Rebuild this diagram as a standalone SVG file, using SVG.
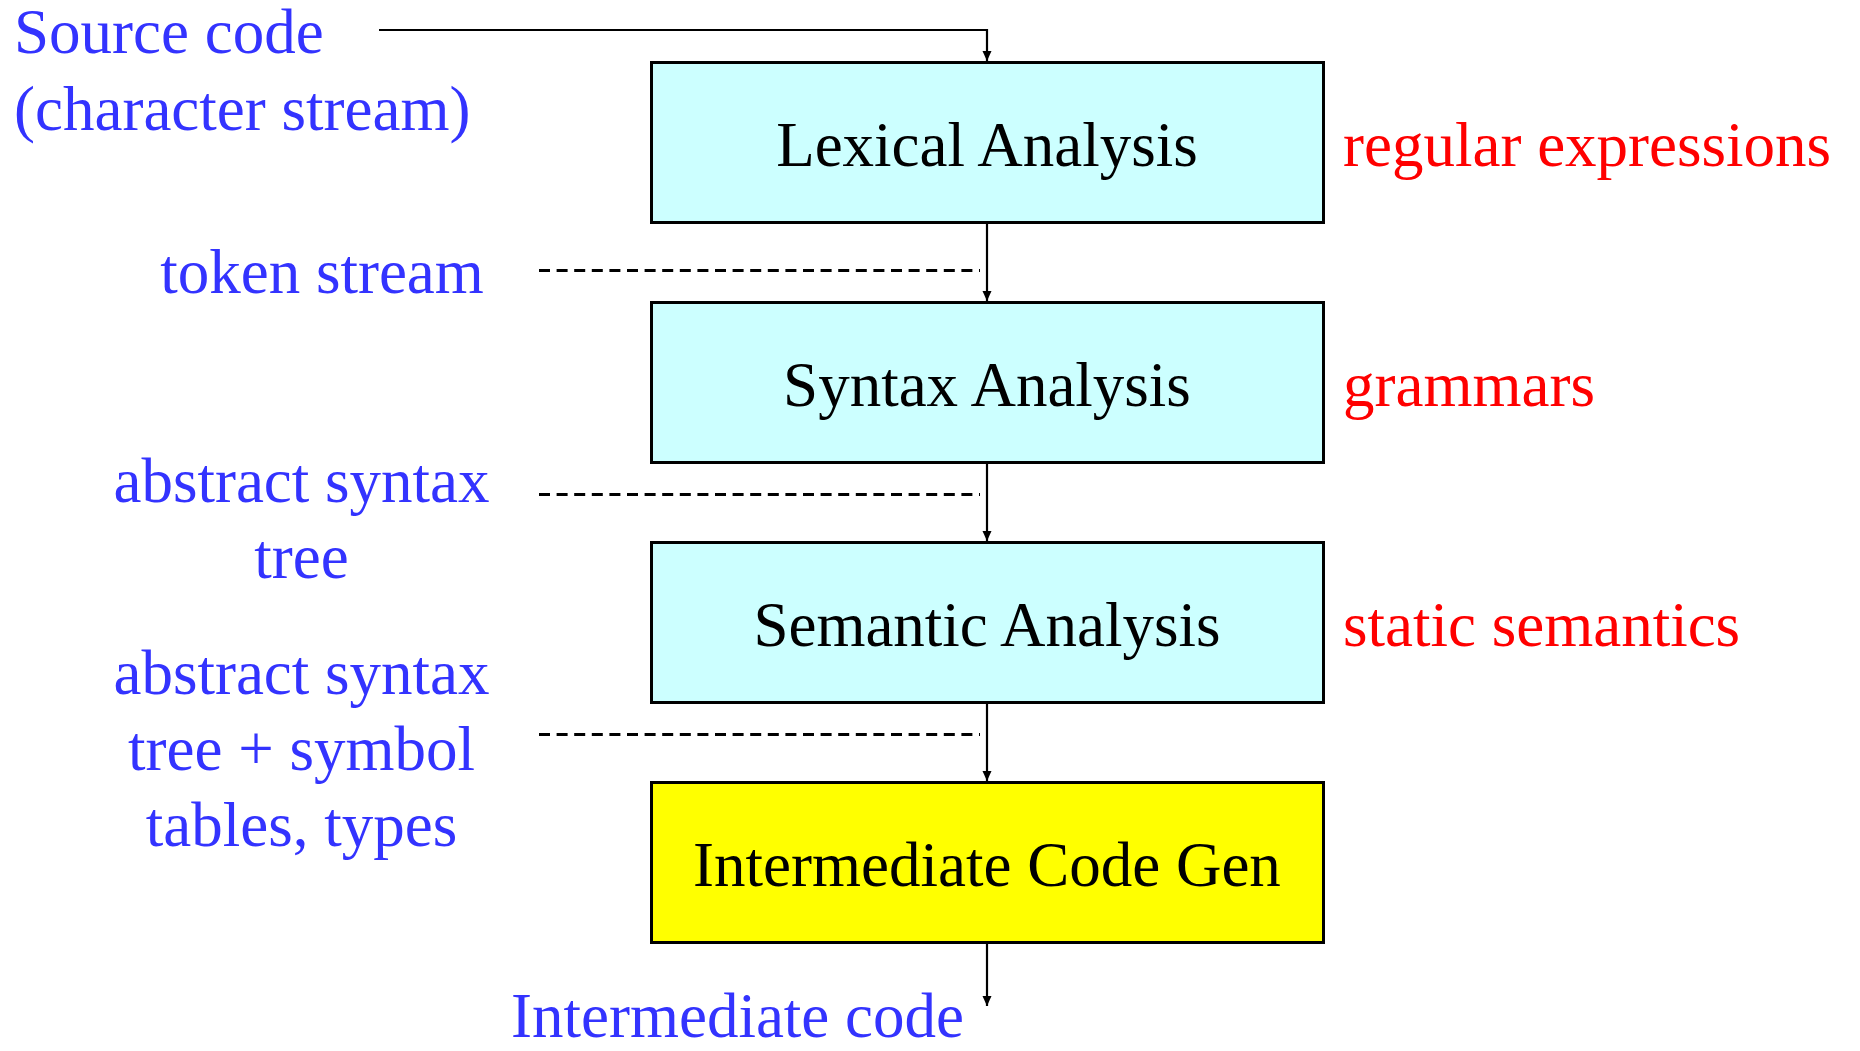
<svg xmlns="http://www.w3.org/2000/svg" width="1860" height="1051" viewBox="0 0 1860 1051">
<style>
text{font-family:"Liberation Serif","Times New Roman",serif;font-size:63px}
.node rect{stroke:#000;stroke-width:3}
.nlabel{fill:#000;text-anchor:middle}
.blue{fill:#3333FF}
.red{fill:#FF0000}
.mid{text-anchor:middle}
.conn{fill:none;stroke:#000;stroke-width:2.2}
.dash{fill:none;stroke:#000;stroke-width:3;stroke-dasharray:11 6.6}
</style>
<defs>
<marker id="arr" viewBox="0 0 10 10" refX="10" refY="5" markerWidth="10" markerHeight="10" markerUnits="userSpaceOnUse" orient="auto">
<path d="M0,0.5 L10,5 L0,9.5 Z" fill="#000"/>
</marker>
</defs>
<rect width="1860" height="1051" fill="#fff"/>
<g id="connectors">
<path class="conn" d="M379,30 H987 V61" marker-end="url(#arr)"/>
<path class="conn" d="M987,224 V301" marker-end="url(#arr)"/>
<path class="conn" d="M987,464 V541" marker-end="url(#arr)"/>
<path class="conn" d="M987,704 V781" marker-end="url(#arr)"/>
<path class="conn" d="M987,944 V1006" marker-end="url(#arr)"/>
<path class="dash" d="M539,270.5 H980"/>
<path class="dash" d="M539,494.5 H980"/>
<path class="dash" d="M539,734.5 H980"/>
</g>
<g id="lexical" class="node">
<rect x="651.5" y="62.5" width="672" height="160" fill="#CCFFFF"/>
<text class="nlabel" x="987" y="166">Lexical Analysis</text>
</g>
<g id="syntax" class="node">
<rect x="651.5" y="302.5" width="672" height="160" fill="#CCFFFF"/>
<text class="nlabel" x="987" y="406">Syntax Analysis</text>
</g>
<g id="semantic" class="node">
<rect x="651.5" y="542.5" width="672" height="160" fill="#CCFFFF"/>
<text class="nlabel" x="987" y="646">Semantic Analysis</text>
</g>
<g id="icg" class="node">
<rect x="651.5" y="782.5" width="672" height="160" fill="#FFFF00"/>
<text class="nlabel" x="987" y="886">Intermediate Code Gen</text>
</g>
<g id="labels">
<text class="blue" x="14" y="53">Source code</text>
<text class="blue" x="14" y="130">(character stream)</text>
<text class="blue mid" x="322" y="293">token stream</text>
<text class="blue mid" x="301.5" y="502">abstract syntax</text>
<text class="blue mid" x="301.5" y="578">tree</text>
<text class="blue mid" x="301.5" y="694">abstract syntax</text>
<text class="blue mid" x="301.5" y="770">tree + symbol</text>
<text class="blue mid" x="301.5" y="846">tables, types</text>
<text class="blue" x="511" y="1037">Intermediate code</text>
<text class="red" x="1343" y="166">regular expressions</text>
<text class="red" x="1343" y="406">grammars</text>
<text class="red" x="1343" y="646">static semantics</text>
</g>
</svg>
